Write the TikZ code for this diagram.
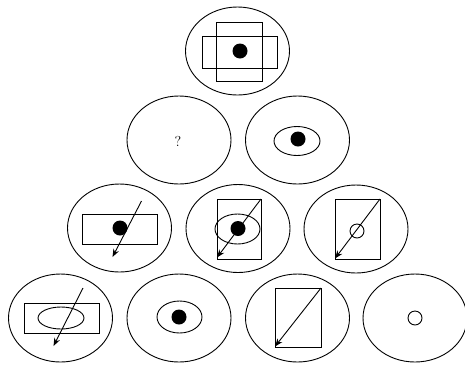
\documentclass[tikz,border=0pt]{standalone}
\usetikzlibrary{calc}
\usetikzlibrary{arrows.meta}
\tikzset{arr/.style = {-{Stealth[length=8pt, width=6pt]}}}

\begin{document}
\begin{tikzpicture}[x=1pt, y=-1pt, line width=0.9pt]
    \useasboundingbox (0,0) rectangle (465,365);
    \coordinate (a) at (237.5,51);
    \coordinate (b1) at (179,140);
    \coordinate (b2) at (297.5,140);
    \coordinate (c1) at (119.5,228);
    \coordinate (c2) at (238,228.5);
    \coordinate (c3) at (356,229);
    \coordinate (d1) at (60.5,318);
    \coordinate (d2) at (179,318);
    \coordinate (d3) at (297.5,318);
    \coordinate (d4) at (415,318);
    \foreach \p in {a, b1, b2, c1, c2, c3, d1, d2, d3, d4} {
        \draw (\p) ellipse (52pt and 44pt); % outer ring
    }
    % top
    \draw ($(a)+(-21,-29)$) rectangle ($(a)+(25,30)$);
    \draw ($(a)+(-35,-15)$) rectangle ($(a)+(40,17)$);
    \fill ($(a)+(2.5,0)$) circle (7.5pt);
    % second row
    \node[font=\Large] (q) at ($(b1)+(-1,1)$) {?};
    \draw ($(b2)+(-0.5,1)$) ellipse (23pt and 14.5pt);
    \fill ($(b2)+(0.5,-1)$) circle (7.5pt);
    % third row
    \draw ($(c1)+(-37,-14)$) rectangle ($(c1)+(38,16)$);
    \fill ($(c1)+(0.5,0)$) circle (7.5pt);
    \draw[arr] ($(c1)+(22,-27)$) -- ($(c1)+(-7,29)$);
    \draw ($(c2)+(-21,-29.5)$) rectangle ($(c2)+(23,30.5)$);
    \draw ($(c2)+(-0.5,0.5)$) ellipse (22.5pt and 15pt);
    \fill (c2) circle (7.5pt);
    \draw[arr] ($(c2)+(23,-29.5)$) -- ($(c2)+(-21,29)$);
    \draw ($(c3)+(-21,-30)$) rectangle ($(c3)+(24,30)$);
    \draw ($(c3)+(1,2)$) circle (7pt);
    \draw[arr] ($(c3)+(24,-30)$) -- ($(c3)+(-21,29.5)$);
    % bottom row
    \draw ($(d1)+(-36.5,-15)$) rectangle ($(d1)+(38.5,15)$);
    \draw ($(d1)+(0.5,0)$) ellipse (23pt and 11pt);
    \draw[arr] ($(d1)+(22.5,-30)$) -- ($(d1)+(-7,28)$);
    \draw ($(d2)+(0.5,-1)$) ellipse (22.5pt and 16pt);
    \fill ($(d2)+(0,-1)$) circle (7.5pt);
    \draw ($(d3)+(-22.5,-30)$) rectangle ($(d3)+(23.5,29)$);
    \draw[arr] ($(d3)+(23.5,-30)$) -- ($(d3)+(-22.5,28.5)$);
    \draw (d4) circle (7pt);
\end{tikzpicture}
\end{document}
